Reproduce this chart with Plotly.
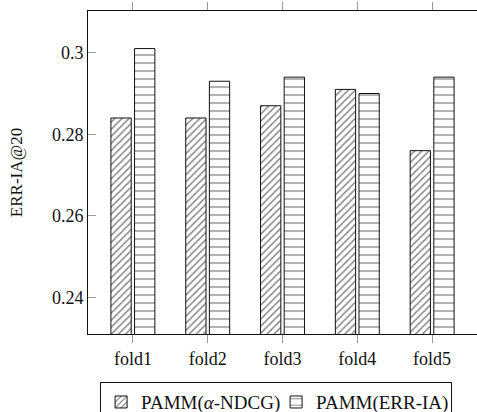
import plotly.graph_objects as go

# Fold labels and ERR-IA@20 scores for the two PAMM variants
folds = ["fold1", "fold2", "fold3", "fold4", "fold5"]
pamm_ndcg = [0.284, 0.284, 0.287, 0.291, 0.276]
pamm_err = [0.301, 0.293, 0.294, 0.290, 0.294]
y_ticks = [0.24, 0.26, 0.28, 0.30]
y_tick_text = ["0.24", "0.26", "0.28", "0.3"]
y_range = [0.2311, 0.3102]

FONT = "'Liberation Serif', 'Times New Roman', 'DejaVu Serif', serif"

fig = go.Figure()
fig.add_trace(go.Bar(
    x=folds, y=pamm_ndcg,
    name="PAMM(<i>α</i>-NDCG)",
    marker=dict(
        color="white",
        line=dict(color="#111111", width=1),
        pattern=dict(shape="/", fgcolor="#111111", bgcolor="white",
                     size=5, solidity=0.3, fillmode="overlay"),
    ),
))
fig.add_trace(go.Bar(
    x=folds, y=pamm_err,
    name="PAMM(ERR-IA)",
    marker=dict(
        color="white",
        line=dict(color="#111111", width=1),
        pattern=dict(shape="-", fgcolor="#111111", bgcolor="white",
                     size=8, solidity=0.16, fillmode="overlay"),
    ),
))

# the axes frame runs on past the right edge of the 477 px page
fig.update_layout(
    template="none",
    width=491, height=412,
    margin=dict(l=88, r=0, t=11, b=78, autoexpand=False),
    paper_bgcolor="white", plot_bgcolor="white",
    font=dict(family=FONT, size=18, color="#111111"),
    barmode="group", bargap=0.368, bargroupgap=0.142,
    showlegend=True,
    legend=dict(
        orientation="h",
        x=0.03, xanchor="left",
        y=-0.149, yanchor="top",
        bordercolor="#111111", borderwidth=1, bgcolor="white",
        itemwidth=30, entrywidth=130,
        font=dict(family=FONT, size=19),
        traceorder="normal",
    ),
)

fig.layout.xaxis.update(
    range=[-0.6, 4.787], automargin=False,
    showline=True, linecolor="#111111", linewidth=1, mirror="ticks",
    ticks="outside", ticklen=8, tickcolor="#999999", tickwidth=1,
    showgrid=False, zeroline=False,
    tickfont=dict(family=FONT, size=18),
)
fig.layout.yaxis.update(
    range=y_range, automargin=False,
    tickvals=y_ticks, ticktext=y_tick_text,
    showline=True, linecolor="#111111", linewidth=1, mirror="ticks",
    ticks="inside", ticklen=8, tickcolor="#999999", tickwidth=1,
    showgrid=False, zeroline=False,
    tickfont=dict(family=FONT, size=18),
    title=dict(text="ERR-IA@20", font=dict(family=FONT, size=17), standoff=24),
)

# the legend box and frame run past the page edges; keep the page from scrolling
fig.write_html(
    "out.html",
    post_script="document.documentElement.style.overflow='hidden';"
                "document.body.style.overflow='hidden';",
)
